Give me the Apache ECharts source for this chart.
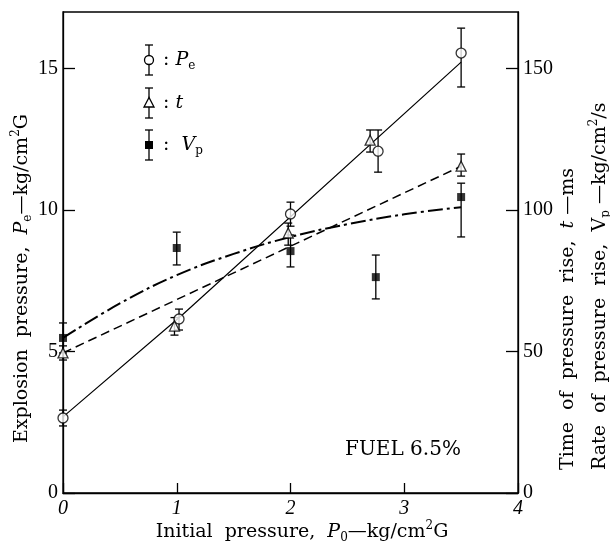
<!DOCTYPE html>
<html><head><meta charset="utf-8">
<script src="https://cdn.jsdelivr.net/npm/echarts@6/dist/echarts.min.js"></script>
<style>html,body{margin:0;padding:0;background:#fff}#c{width:610px;height:547px}</style>
</head><body><div id="c"></div>
<script>
// ---- data ----
const xTicks = [0, 1, 2, 3, 4];
const leftTicks = [0, 5, 10, 15];
const rightTicks = [0, 50, 100, 150];

// Explosion pressure Pe (left axis)
const peX    = [0, 1.02, 2.0, 2.77, 3.5];
const peVal  = [2.65, 6.15, 9.86, 12.08, 15.55];
const peLow  = [2.37, 5.76, 9.43, 11.34, 14.35];
const peHigh = [2.93, 6.50, 10.28, 12.83, 16.43];

// Time of pressure rise t (right axis)
const tX    = [0, 0.98, 1.98, 2.7, 3.5];
const tVal  = [49.5, 59.0, 91.9, 124.7, 115.5];
const tLow  = [47.0, 55.8, 87.6, 120.5, 112.0];
const tHigh = [52.0, 62.0, 95.4, 128.3, 119.8];

// Rate of pressure rise Vp (right axis)
const vpX    = [0, 1.0, 2.0, 2.75, 3.5];
const vpVal  = [54.8, 86.6, 85.5, 76.3, 104.6];
const vpLow  = [49.5, 80.6, 79.9, 68.6, 90.5];
const vpHigh = [60.1, 92.2, 91.2, 84.1, 109.5];

// fitted curves
const peFitX = [0, 1.05, 3.5];
const peFitY = [2.69, 6.3, 15.23];
const tFitX = [0, 3.5];
const tFitY = [49.5, 115.5];
const vpFitX = [0, 0.5, 1, 1.5, 2, 2.5, 3, 3.5];
const vpFitY = [54.8, 67, 77, 84.5, 90.5, 95, 98.5, 101];

const SERIF = "'DejaVu Serif', serif";
const NUM = "'Liberation Serif', serif";

function pairs(xs, ys) { return xs.map((x, i) => [x, ys[i]]); }

function errSeries(xs, lo, hi, yIdx) {
  return {
    type: 'custom', yAxisIndex: yIdx, silent: true, z: 3,
    data: xs.map((x, i) => [x, lo[i], hi[i]]),
    renderItem(params, api) {
      const x = api.value(0);
      const p1 = api.coord([x, api.value(1)]);
      const p2 = api.coord([x, api.value(2)]);
      const w = 4, st = { stroke: '#000', lineWidth: 1.3 };
      return { type: 'group', children: [
        { type: 'line', shape: { x1: p1[0], y1: p1[1], x2: p2[0], y2: p2[1] }, style: st },
        { type: 'line', shape: { x1: p1[0] - w, y1: p1[1], x2: p1[0] + w, y2: p1[1] }, style: st },
        { type: 'line', shape: { x1: p2[0] - w, y1: p2[1], x2: p2[0] + w, y2: p2[1] }, style: st }
      ]};
    }
  };
}

const rich = {
  n:   { fontFamily: SERIF, fontSize: 19, lineHeight: 24, fill: '#000' },
  i:   { fontFamily: SERIF, fontSize: 19, lineHeight: 24, fontStyle: 'italic', fill: '#000' },
  sub: { fontFamily: SERIF, fontSize: 12, lineHeight: 15, verticalAlign: 'bottom', fill: '#000' },
  sup: { fontFamily: SERIF, fontSize: 12, lineHeight: 17, verticalAlign: 'top', fill: '#000' }
};

function legendItem(cy, sym) {
  const st = { stroke: '#000', lineWidth: 1.3 };
  const cx = 149, h = 15, w = 4;
  const kids = [
    { type: 'line', shape: { x1: cx, y1: cy - h, x2: cx, y2: cy + h }, style: st },
    { type: 'line', shape: { x1: cx - w, y1: cy - h, x2: cx + w, y2: cy - h }, style: st },
    { type: 'line', shape: { x1: cx - w, y1: cy + h, x2: cx + w, y2: cy + h }, style: st }
  ];
  if (sym === 'circle') kids.push({ type: 'circle', shape: { cx, cy, r: 4.5 }, style: { fill: '#fff', stroke: '#000', lineWidth: 1.3 } });
  if (sym === 'triangle') kids.push({ type: 'polygon', shape: { points: [[cx, cy - 5.5], [cx - 5, cy + 4], [cx + 5, cy + 4]] }, style: { fill: '#fff', stroke: '#000', lineWidth: 1.3 } });
  if (sym === 'rect') kids.push({ type: 'rect', shape: { x: cx - 4, y: cy - 4, width: 8, height: 8 }, style: { fill: '#000' } });
  return { type: 'group', children: kids };
}

const chart = echarts.init(document.getElementById('c'));
chart.setOption({
  animation: false,
  backgroundColor: '#fff',
  grid: { left: 63, right: 92, top: 12, bottom: 54, show: true, borderColor: '#000', borderWidth: 1.3 },
  xAxis: {
    type: 'value', min: xTicks[0], max: xTicks[xTicks.length - 1], interval: 1,
    axisLine: { lineStyle: { color: '#000', width: 1.3 } },
    axisTick: { inside: true, length: 10, lineStyle: { color: '#000', width: 1.3 } },
    axisLabel: { fontFamily: NUM, fontSize: 20, fontStyle: 'italic', color: '#000', margin: 6 },
    splitLine: { show: false }
  },
  yAxis: [
    {
      type: 'value', min: 0, max: 17, interval: 5, position: 'left',
      axisLine: { show: true, lineStyle: { color: '#000', width: 1.3 } },
      axisTick: { show: true, inside: true, length: 12, lineStyle: { color: '#000', width: 1.3 } },
      axisLabel: { fontFamily: NUM, fontSize: 20, color: '#000', margin: 5, showMaxLabel: false,
        formatter: v => leftTicks.includes(v) ? String(v) : '' },
      splitLine: { show: false }
    },
    {
      type: 'value', min: 0, max: 170, interval: 50, position: 'right',
      axisLine: { show: true, lineStyle: { color: '#000', width: 1.3 } },
      axisTick: { show: true, inside: true, length: 12, lineStyle: { color: '#000', width: 1.3 } },
      axisLabel: { fontFamily: NUM, fontSize: 20, color: '#000', margin: 5, showMaxLabel: false,
        formatter: v => rightTicks.includes(v) ? String(v) : '' },
      splitLine: { show: false }
    }
  ],
  series: [
    { type: 'line', yAxisIndex: 0, data: pairs(peFitX, peFitY), symbol: 'none', z: 2,
      lineStyle: { color: '#000', width: 1.2 } },
    { type: 'line', yAxisIndex: 1, data: pairs(tFitX, tFitY), symbol: 'none', z: 2,
      lineStyle: { color: '#000', width: 1.5, type: [9, 5] } },
    { type: 'line', yAxisIndex: 1, data: pairs(vpFitX, vpFitY), symbol: 'none', smooth: 0.4, z: 2,
      lineStyle: { color: '#000', width: 2, type: [15, 4, 3, 4] } },
    errSeries(peX, peLow, peHigh, 0),
    errSeries(tX, tLow, tHigh, 1),
    errSeries(vpX, vpLow, vpHigh, 1),
    { type: 'scatter', yAxisIndex: 0, data: pairs(peX, peVal), symbol: 'circle', symbolSize: 10, z: 5,
      itemStyle: { color: '#fff', borderColor: '#000', borderWidth: 1.3 } },
    { type: 'scatter', yAxisIndex: 1, data: pairs(tX, tVal), symbol: 'triangle', symbolSize: 10, z: 5,
      itemStyle: { color: '#fff', borderColor: '#000', borderWidth: 1.3 } },
    { type: 'scatter', yAxisIndex: 1, data: pairs(vpX, vpVal), symbol: 'rect', symbolSize: 8, z: 5,
      itemStyle: { color: '#000' } }
  ],
  graphic: [
    legendItem(60, 'circle'),
    legendItem(103, 'triangle'),
    legendItem(145, 'rect'),
    { type: 'text', x: 163, y: 60, style: { text: ': {i|P}{sub|e}', rich, fontFamily: SERIF, fontSize: 19, verticalAlign: 'middle', fill: '#000' } },
    { type: 'text', x: 163, y: 103, style: { text: ': {i|t}', rich, fontFamily: SERIF, fontSize: 19, verticalAlign: 'middle', fill: '#000' } },
    { type: 'text', x: 163, y: 145, style: { text: ':  {i|V}{sub|p}', rich, fontFamily: SERIF, fontSize: 19, verticalAlign: 'middle', fill: '#000' } },
    { type: 'text', x: 403, y: 450, style: { text: 'FUEL 6.5%', fontFamily: SERIF, fontSize: 20, align: 'center', verticalAlign: 'middle', fill: '#000' } },
    { type: 'text', x: 302, y: 532, style: { text: '{n|Initial  pressure,  }{i|P}{sub|0}{n|—kg/cm}{sup|2}{n|G}', rich, align: 'center', verticalAlign: 'middle' } },
    { type: 'text', x: 22, y: 443, rotation: Math.PI / 2, style: { text: '{n|Explosion  pressure,  }{i|P}{sub|e}{n|—kg/cm}{sup|2}{n|G}', rich, align: 'left', verticalAlign: 'middle' } },
    { type: 'text', x: 568, y: 470, rotation: Math.PI / 2, style: { text: '{n|Time  of  pressure  rise,  }{i|t}{n| —ms}', rich, align: 'left', verticalAlign: 'middle' } },
    { type: 'text', x: 600, y: 470, rotation: Math.PI / 2, style: { text: '{n|Rate  of  pressure  rise,  V}{sub|p}{n| —kg/cm}{sup|2}{n|/s}', rich, align: 'left', verticalAlign: 'middle' } }
  ]
});
</script>
</body></html>
